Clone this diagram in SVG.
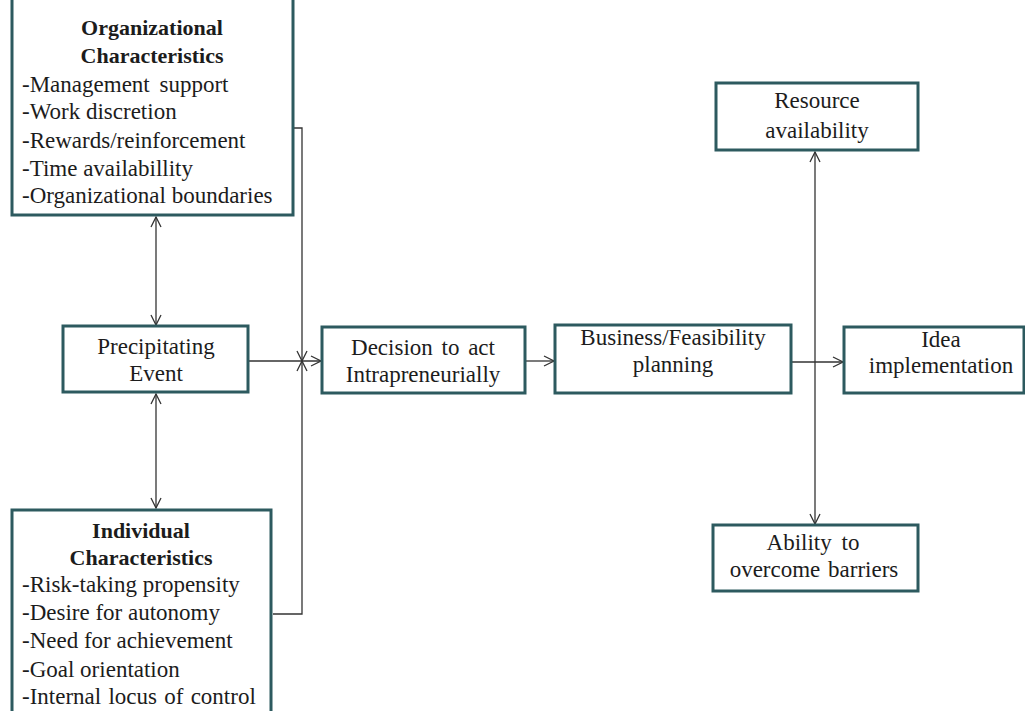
<svg xmlns="http://www.w3.org/2000/svg" width="1025" height="711" viewBox="0 0 1025 711">
  <style>
    .box { fill: #ffffff; stroke: #2d5a5f; stroke-width: 3; }
    .t { font-family: "Liberation Serif", "Times New Roman", serif; font-size: 23px; fill: #1c1c1c; }
    .c { text-anchor: middle; }
    .b { font-weight: bold; font-size: 22px; }
    .conn { fill: none; stroke: #333333; stroke-width: 1.3; }
  </style>
  <defs>
    <marker id="arr" viewBox="0 0 12 12" refX="11" refY="6" markerWidth="12" markerHeight="12" markerUnits="userSpaceOnUse" orient="auto-start-reverse">
      <polyline points="1,1 11,6 1,11" fill="none" stroke="#333333" stroke-width="1.3"/>
    </marker>
  </defs>
  <rect width="1025" height="711" fill="#ffffff"/>

  <!-- connectors -->
  <g id="connectors">
    <path class="conn" d="M156,217 V325" marker-start="url(#arr)" marker-end="url(#arr)"/>
    <path class="conn" d="M156,394 V508" marker-start="url(#arr)" marker-end="url(#arr)"/>
    <path class="conn" d="M294,128 H302 V361" marker-end="url(#arr)"/>
    <path class="conn" d="M273,614 H302 V361" marker-end="url(#arr)"/>
    <path class="conn" d="M249,361 H321" marker-end="url(#arr)"/>
    <path class="conn" d="M526,361 H554" marker-end="url(#arr)"/>
    <path class="conn" d="M792,362 H843" marker-end="url(#arr)"/>
    <path class="conn" d="M815,152 V524" marker-start="url(#arr)" marker-end="url(#arr)"/>
  </g>

  <!-- organizational characteristics -->
  <g id="org">
    <rect class="box" x="12" y="-10" width="281" height="225"/>
    <text class="t b c" x="152" y="35">Organizational</text>
    <text class="t b c" x="152" y="63">Characteristics</text>
    <text class="t" x="22" y="92" word-spacing="4">-Management support</text>
    <text class="t" x="22" y="119">-Work discretion</text>
    <text class="t" x="22" y="148">-Rewards/reinforcement</text>
    <text class="t" x="22" y="176">-Time availabillity</text>
    <text class="t" x="22" y="203">-Organizational boundaries</text>
  </g>

  <!-- precipitating event -->
  <g id="precip">
    <rect class="box" x="63" y="326" width="185" height="66"/>
    <text class="t c" x="156" y="354">Precipitating</text>
    <text class="t c" x="156" y="381">Event</text>
  </g>

  <!-- individual characteristics -->
  <g id="indiv">
    <rect class="box" x="12" y="510" width="259" height="220"/>
    <text class="t b c" x="141" y="538">Individual</text>
    <text class="t b c" x="141" y="565">Characteristics</text>
    <text class="t" x="22" y="592">-Risk-taking propensity</text>
    <text class="t" x="22" y="620">-Desire for autonomy</text>
    <text class="t" x="22" y="648">-Need for achievement</text>
    <text class="t" x="22" y="677">-Goal orientation</text>
    <text class="t" x="22" y="704" word-spacing="1.5">-Internal locus of control</text>
  </g>

  <!-- decision -->
  <g id="decision">
    <rect class="box" x="322" y="327" width="203" height="66"/>
    <text class="t c" x="423" y="355" word-spacing="3">Decision to act</text>
    <text class="t c" x="423" y="382">Intrapreneurially</text>
  </g>

  <!-- business planning -->
  <g id="planning">
    <rect class="box" x="555" y="325" width="236" height="68"/>
    <text class="t c" x="673" y="345">Business/Feasibility</text>
    <text class="t c" x="673" y="372">planning</text>
  </g>

  <!-- implementation -->
  <g id="implementation">
    <rect class="box" x="844" y="327" width="180" height="66"/>
    <text class="t c" x="941" y="347">Idea</text>
    <text class="t c" x="941" y="373">implementation</text>
  </g>

  <!-- resource availability -->
  <g id="resource">
    <rect class="box" x="716" y="83" width="202" height="67"/>
    <text class="t c" x="817" y="108">Resource</text>
    <text class="t c" x="817" y="138">availability</text>
  </g>

  <!-- barriers -->
  <g id="barriers">
    <rect class="box" x="713" y="525" width="205" height="66"/>
    <text class="t c" x="813" y="550" word-spacing="4">Ability to</text>
    <text class="t c" x="814" y="577" word-spacing="2">overcome barriers</text>
  </g>
</svg>
